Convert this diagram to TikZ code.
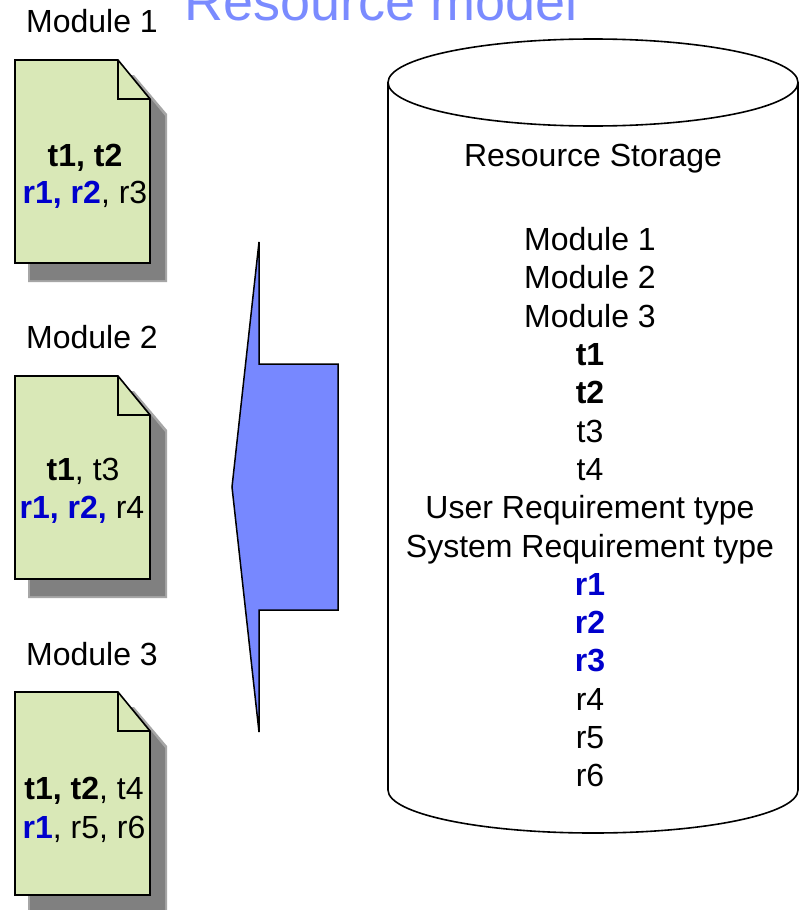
\documentclass[tikz,border=0pt]{standalone}
\usepackage{fontspec}
\setmainfont{Liberation Sans}
\definecolor{docgreen}{RGB}{217,232,183}
\definecolor{shadowgray}{RGB}{128,128,128}
\definecolor{rblue}{RGB}{0,0,204}
\definecolor{arrowblue}{RGB}{119,136,255}
\definecolor{titleblue}{RGB}{122,139,255}
\newcommand{\bt}[1]{\textbf{#1}}
\newcommand{\br}[1]{\textcolor{rblue}{\textbf{#1}}}
\tikzset{
  txt/.style={inner sep=0pt, anchor=base, font=\fontsize{32}{38}\selectfont},
  ttl/.style={inner sep=0pt, anchor=base west, text=titleblue, font=\fontsize{54}{60}\selectfont},
  docpic/.pic={
    \fill[shadowgray!70] (13,15) -- (119,15) -- (152,54) -- (152,222) -- (13,222) -- cycle;
    \fill[shadowgray] (15,17) -- (118,17) -- (150,56) -- (150,220) -- (15,220) -- cycle;
    \filldraw[fill=docgreen, draw=black, line width=1.6pt, line join=miter]
      (0,0) -- (103,0) -- (135,39) -- (135,203) -- (0,203) -- cycle;
    \draw[line width=1.6pt] (103,0) -- (103,39) -- (135,39);
  }
}
\begin{document}
\begin{tikzpicture}[x=1pt,y=-1pt]
\useasboundingbox[fill=white] (0,0) rectangle (801,910);

% title
\node[ttl] (title) at (184,20) {Resource model};

% documents
\pic at (15,60) {docpic};
\pic at (15,376) {docpic};
\pic at (15,692) {docpic};

\node[txt] (m1) at (92,32) {Module 1};
\node[txt] (m2) at (92,348) {Module 2};
\node[txt] (m3) at (92,665) {Module 3};

\node[txt] (d1a) at (85,166) {\bt{t1, t2}};
\node[txt] (d1b) at (85,203) {\br{r1, r2}, r3};
\node[txt] (d2a) at (83,480) {\bt{t1}, t3};
\node[txt] (d2b) at (82,518) {\br{r1, r2,} r4};
\node[txt] (d3a) at (84,799) {\bt{t1, t2}, t4};
\node[txt] (d3b) at (84,838) {\br{r1}, r5, r6};

% arrow
\filldraw[fill=arrowblue, draw=black, line width=1.5pt, line join=miter]
  (259,242) -- (259,364) -- (338,364) -- (338,610) -- (259,610) -- (259,732) -- (232,487) -- cycle;

% cylinder
\draw[line width=1.6pt] (388,82.5) -- (388,790)
  .. controls (388,813.7) and (479.8,833) .. (593,833)
  .. controls (706.2,833) and (798,813.7) .. (798,790) -- (798,82.5);
\draw[line width=1.6pt] (593,82.5) ellipse [x radius=205pt, y radius=43.5pt];

\node[txt] (rs) at (593,166.7) {Resource Storage};
\foreach \t [count=\i from 0] in {Module 1,Module 2,Module 3,\bt{t1},\bt{t2},t3,t4,User Requirement type,System Requirement type,\br{r1},\br{r2},\br{r3},r4,r5,r6}{
  \node[txt] (s\i) at (590,250.7+38.29*\i) {\t};
}
\end{tikzpicture}
\end{document}
